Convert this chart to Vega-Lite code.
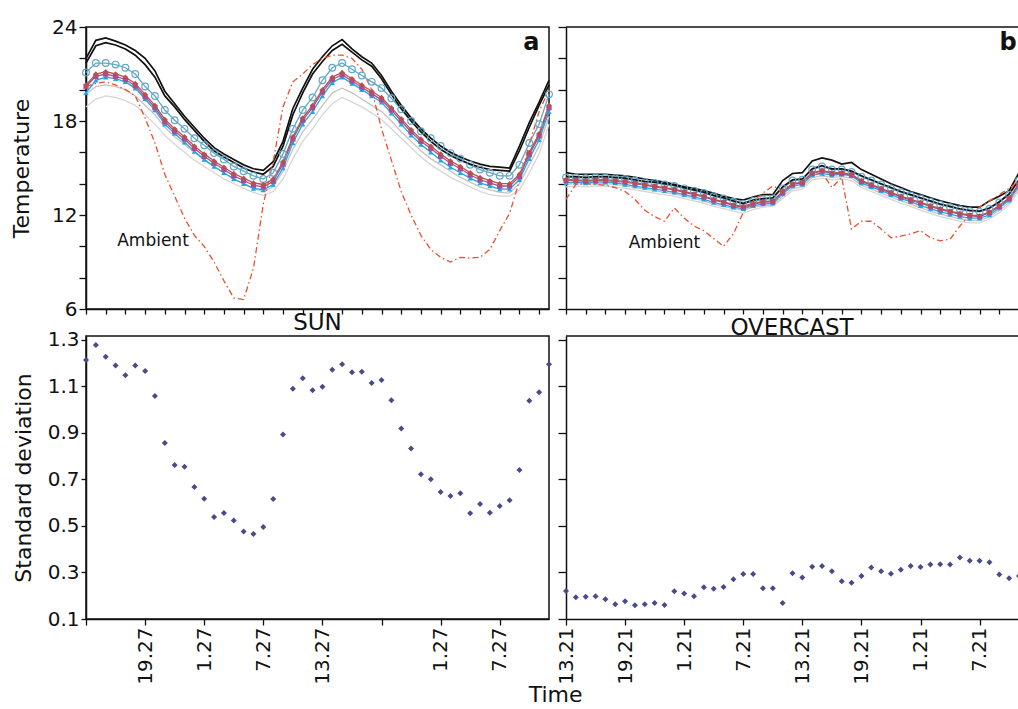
{
"$schema":"https://vega.github.io/schema/vega-lite/v6.json",
"padding":{"left":9,"top":16,"right":0,"bottom":0},
"background":"white",
"title":{"text":"Time","orient":"bottom","anchor":"middle","font":"DejaVu Sans","fontSize":22,"fontWeight":"normal","color":"#111","offset":0,"dx":38},
"columns":2,
"spacing":{"row":-9,"column":-1},
"config":{
 "view":{"stroke":"#111","strokeWidth":1.5},
 "axis":{"domainColor":"#111","domainWidth":1.5,"tickColor":"#111","tickWidth":1.3,"labelColor":"#111","titleColor":"#111","labelFont":"DejaVu Sans","titleFont":"DejaVu Sans","labelFontSize":20,"titleFontSize":22,"titleFontWeight":"normal","grid":false,"labelFlush":false,"labelOverlap":false},
 "text":{"font":"DejaVu Sans","color":"#111"}
},
"datasets":{
"sun":[
{"h":0,"k1":22.0,"k2":21.7,"cy":21.1,"br":20.3,"pu":20.2,"bl":19.8,"g1":19.7,"g2":18.9,"amb":20.2},
{"h":1,"k1":23.15,"k2":22.8,"cy":21.7,"br":21.0,"pu":20.85,"bl":20.6,"g1":20.2,"g2":19.4,"amb":20.4},
{"h":2,"k1":23.3,"k2":23.0,"cy":21.7,"br":21.15,"pu":21.0,"bl":20.8,"g1":20.3,"g2":19.6,"amb":20.5},
{"h":3,"k1":23.1,"k2":22.85,"cy":21.6,"br":21.0,"pu":20.85,"bl":20.7,"g1":20.2,"g2":19.5,"amb":20.3},
{"h":4,"k1":22.85,"k2":22.6,"cy":21.4,"br":20.8,"pu":20.65,"bl":20.5,"g1":20.0,"g2":19.3,"amb":20.0},
{"h":5,"k1":22.5,"k2":22.2,"cy":21.0,"br":20.4,"pu":20.25,"bl":20.1,"g1":19.6,"g2":19.0,"amb":19.6},
{"h":6,"k1":22.0,"k2":21.6,"cy":20.2,"br":19.7,"pu":19.55,"bl":19.4,"g1":19.0,"g2":18.4,"amb":18.2},
{"h":7,"k1":21.2,"k2":20.8,"cy":19.6,"br":19.0,"pu":18.85,"bl":18.7,"g1":18.4,"g2":17.8,"amb":16.6},
{"h":8,"k1":19.9,"k2":19.6,"cy":18.7,"br":18.1,"pu":17.95,"bl":17.8,"g1":17.6,"g2":17.1,"amb":14.6},
{"h":9,"k1":19.1,"k2":18.9,"cy":18.05,"br":17.5,"pu":17.35,"bl":17.2,"g1":17.0,"g2":16.5,"amb":13.2},
{"h":10,"k1":18.3,"k2":18.1,"cy":17.5,"br":17.0,"pu":16.85,"bl":16.65,"g1":16.5,"g2":16.0,"amb":11.8},
{"h":11,"k1":17.6,"k2":17.4,"cy":16.9,"br":16.4,"pu":16.25,"bl":16.05,"g1":16.0,"g2":15.5,"amb":10.7},
{"h":12,"k1":16.9,"k2":16.7,"cy":16.45,"br":15.9,"pu":15.75,"bl":15.55,"g1":15.5,"g2":15.1,"amb":10.0},
{"h":13,"k1":16.3,"k2":16.1,"cy":15.95,"br":15.45,"pu":15.3,"bl":15.1,"g1":15.1,"g2":14.7,"amb":9.0},
{"h":14,"k1":15.9,"k2":15.7,"cy":15.55,"br":15.05,"pu":14.9,"bl":14.7,"g1":14.7,"g2":14.3,"amb":7.8},
{"h":15,"k1":15.55,"k2":15.35,"cy":15.1,"br":14.65,"pu":14.5,"bl":14.3,"g1":14.3,"g2":14.0,"amb":6.7},
{"h":16,"k1":15.2,"k2":15.0,"cy":14.8,"br":14.35,"pu":14.2,"bl":14.0,"g1":14.0,"g2":13.7,"amb":6.6},
{"h":17,"k1":14.95,"k2":14.75,"cy":14.5,"br":14.05,"pu":13.9,"bl":13.7,"g1":13.7,"g2":13.45,"amb":8.6},
{"h":18,"k1":14.85,"k2":14.6,"cy":14.3,"br":13.95,"pu":13.8,"bl":13.6,"g1":13.5,"g2":13.25,"amb":12.7},
{"h":19,"k1":15.4,"k2":15.1,"cy":14.7,"br":14.3,"pu":14.15,"bl":13.95,"g1":13.8,"g2":13.5,"amb":15.4},
{"h":20,"k1":16.7,"k2":16.4,"cy":15.9,"br":15.4,"pu":15.25,"bl":15.0,"g1":14.8,"g2":14.3,"amb":18.9},
{"h":21,"k1":18.8,"k2":18.4,"cy":17.5,"br":17.0,"pu":16.85,"bl":16.6,"g1":16.2,"g2":15.6,"amb":20.5},
{"h":22,"k1":20.1,"k2":19.8,"cy":18.7,"br":18.2,"pu":18.05,"bl":17.8,"g1":17.3,"g2":16.7,"amb":21.0},
{"h":23,"k1":21.3,"k2":21.0,"cy":19.5,"br":19.0,"pu":18.85,"bl":18.6,"g1":18.1,"g2":17.5,"amb":21.6},
{"h":24,"k1":22.1,"k2":21.8,"cy":20.6,"br":20.0,"pu":19.85,"bl":19.6,"g1":19.0,"g2":18.4,"amb":22.0},
{"h":25,"k1":22.8,"k2":22.5,"cy":21.4,"br":20.8,"pu":20.65,"bl":20.45,"g1":19.8,"g2":19.1,"amb":22.2},
{"h":26,"k1":23.2,"k2":22.9,"cy":21.7,"br":21.1,"pu":20.95,"bl":20.8,"g1":20.1,"g2":19.5,"amb":22.2},
{"h":27,"k1":22.6,"k2":22.4,"cy":21.3,"br":20.7,"pu":20.55,"bl":20.4,"g1":19.8,"g2":19.2,"amb":22.0},
{"h":28,"k1":22.1,"k2":21.9,"cy":20.9,"br":20.3,"pu":20.15,"bl":20.0,"g1":19.4,"g2":18.9,"amb":21.3},
{"h":29,"k1":21.7,"k2":21.5,"cy":20.5,"br":19.9,"pu":19.75,"bl":19.6,"g1":19.0,"g2":18.5,"amb":20.0},
{"h":30,"k1":20.9,"k2":20.7,"cy":20.1,"br":19.5,"pu":19.35,"bl":19.2,"g1":18.6,"g2":18.1,"amb":17.5},
{"h":31,"k1":19.9,"k2":19.7,"cy":19.45,"br":18.85,"pu":18.7,"bl":18.5,"g1":18.0,"g2":17.5,"amb":15.5},
{"h":32,"k1":19.0,"k2":18.8,"cy":18.75,"br":18.15,"pu":18.0,"bl":17.8,"g1":17.3,"g2":16.9,"amb":13.5},
{"h":33,"k1":18.2,"k2":18.0,"cy":18.0,"br":17.45,"pu":17.3,"bl":17.1,"g1":16.7,"g2":16.3,"amb":12.0},
{"h":34,"k1":17.5,"k2":17.3,"cy":17.35,"br":16.85,"pu":16.7,"bl":16.5,"g1":16.1,"g2":15.7,"amb":10.7},
{"h":35,"k1":16.9,"k2":16.7,"cy":16.9,"br":16.4,"pu":16.25,"bl":16.0,"g1":15.6,"g2":15.2,"amb":9.8},
{"h":36,"k1":16.4,"k2":16.2,"cy":16.4,"br":15.9,"pu":15.75,"bl":15.5,"g1":15.2,"g2":14.8,"amb":9.3},
{"h":37,"k1":16.0,"k2":15.8,"cy":15.95,"br":15.45,"pu":15.3,"bl":15.05,"g1":14.8,"g2":14.4,"amb":9.0},
{"h":38,"k1":15.7,"k2":15.5,"cy":15.6,"br":15.1,"pu":14.95,"bl":14.7,"g1":14.4,"g2":14.1,"amb":9.3},
{"h":39,"k1":15.45,"k2":15.25,"cy":15.2,"br":14.7,"pu":14.55,"bl":14.35,"g1":14.1,"g2":13.8,"amb":9.25},
{"h":40,"k1":15.25,"k2":15.05,"cy":14.9,"br":14.4,"pu":14.25,"bl":14.05,"g1":13.8,"g2":13.5,"amb":9.3},
{"h":41,"k1":15.1,"k2":14.9,"cy":14.7,"br":14.2,"pu":14.05,"bl":13.85,"g1":13.6,"g2":13.3,"amb":9.8},
{"h":42,"k1":15.05,"k2":14.85,"cy":14.5,"br":14.0,"pu":13.85,"bl":13.65,"g1":13.45,"g2":13.2,"amb":11.0},
{"h":43,"k1":15.0,"k2":14.8,"cy":14.5,"br":14.0,"pu":13.85,"bl":13.65,"g1":13.4,"g2":13.2,"amb":12.1},
{"h":44,"k1":16.4,"k2":16.1,"cy":15.2,"br":14.6,"pu":14.45,"bl":14.25,"g1":14.0,"g2":13.6,"amb":14.2},
{"h":45,"k1":17.9,"k2":17.6,"cy":16.6,"br":16.0,"pu":15.85,"bl":15.6,"g1":15.2,"g2":14.7,"amb":16.5},
{"h":46,"k1":19.2,"k2":19.0,"cy":17.8,"br":17.2,"pu":17.05,"bl":16.8,"g1":16.4,"g2":15.9,"amb":18.6},
{"h":47,"k1":20.6,"k2":20.3,"cy":19.7,"br":19.0,"pu":18.85,"bl":18.6,"g1":18.3,"g2":17.8,"amb":20.0}
],
"ovc":[
{"h":0,"k1":14.7,"k2":14.45,"cy":14.4,"br":14.25,"pu":14.2,"bl":14.05,"g1":13.95,"g2":13.8,"amb":13.0},
{"h":1,"k1":14.6,"k2":14.45,"cy":14.4,"br":14.25,"pu":14.2,"bl":14.1,"g1":14.0,"g2":13.85,"amb":13.95},
{"h":2,"k1":14.6,"k2":14.4,"cy":14.35,"br":14.2,"pu":14.15,"bl":14.05,"g1":13.95,"g2":13.8,"amb":14.0},
{"h":3,"k1":14.6,"k2":14.45,"cy":14.4,"br":14.25,"pu":14.2,"bl":14.1,"g1":14.0,"g2":13.85,"amb":13.95},
{"h":4,"k1":14.6,"k2":14.45,"cy":14.4,"br":14.25,"pu":14.2,"bl":14.1,"g1":14.0,"g2":13.85,"amb":13.9},
{"h":5,"k1":14.55,"k2":14.4,"cy":14.35,"br":14.2,"pu":14.15,"bl":14.05,"g1":13.95,"g2":13.8,"amb":13.75},
{"h":6,"k1":14.5,"k2":14.35,"cy":14.3,"br":14.15,"pu":14.1,"bl":13.95,"g1":13.85,"g2":13.7,"amb":13.5},
{"h":7,"k1":14.4,"k2":14.25,"cy":14.2,"br":14.05,"pu":14.0,"bl":13.85,"g1":13.75,"g2":13.6,"amb":13.0},
{"h":8,"k1":14.3,"k2":14.15,"cy":14.1,"br":13.95,"pu":13.9,"bl":13.75,"g1":13.65,"g2":13.5,"amb":12.3},
{"h":9,"k1":14.2,"k2":14.1,"cy":14.05,"br":13.85,"pu":13.8,"bl":13.65,"g1":13.55,"g2":13.4,"amb":11.9},
{"h":10,"k1":14.1,"k2":14.0,"cy":13.95,"br":13.75,"pu":13.7,"bl":13.55,"g1":13.45,"g2":13.3,"amb":11.6},
{"h":11,"k1":13.95,"k2":13.9,"cy":13.85,"br":13.65,"pu":13.6,"bl":13.45,"g1":13.35,"g2":13.2,"amb":12.45},
{"h":12,"k1":13.8,"k2":13.75,"cy":13.7,"br":13.5,"pu":13.45,"bl":13.3,"g1":13.2,"g2":13.05,"amb":11.8},
{"h":13,"k1":13.7,"k2":13.6,"cy":13.55,"br":13.35,"pu":13.3,"bl":13.15,"g1":13.05,"g2":12.9,"amb":11.3},
{"h":14,"k1":13.55,"k2":13.45,"cy":13.4,"br":13.2,"pu":13.15,"bl":13.0,"g1":12.9,"g2":12.75,"amb":11.0},
{"h":15,"k1":13.4,"k2":13.25,"cy":13.2,"br":13.0,"pu":12.95,"bl":12.8,"g1":12.7,"g2":12.55,"amb":10.5},
{"h":16,"k1":13.2,"k2":13.1,"cy":13.05,"br":12.85,"pu":12.8,"bl":12.65,"g1":12.55,"g2":12.4,"amb":10.0},
{"h":17,"k1":13.05,"k2":12.9,"cy":12.85,"br":12.65,"pu":12.6,"bl":12.5,"g1":12.4,"g2":12.25,"amb":10.8},
{"h":18,"k1":12.95,"k2":12.75,"cy":12.7,"br":12.55,"pu":12.5,"bl":12.4,"g1":12.3,"g2":12.1,"amb":12.15},
{"h":19,"k1":13.15,"k2":12.95,"cy":12.9,"br":12.75,"pu":12.7,"bl":12.6,"g1":12.5,"g2":12.35,"amb":12.9},
{"h":20,"k1":13.3,"k2":13.05,"cy":13.0,"br":12.85,"pu":12.8,"bl":12.7,"g1":12.6,"g2":12.5,"amb":13.4},
{"h":21,"k1":13.3,"k2":13.1,"cy":13.05,"br":12.9,"pu":12.85,"bl":12.75,"g1":12.65,"g2":12.55,"amb":13.85},
{"h":22,"k1":14.2,"k2":13.8,"cy":13.7,"br":13.5,"pu":13.45,"bl":13.35,"g1":13.2,"g2":13.05,"amb":13.6},
{"h":23,"k1":14.65,"k2":14.25,"cy":14.2,"br":14.0,"pu":13.95,"bl":13.85,"g1":13.7,"g2":13.55,"amb":14.0},
{"h":24,"k1":14.7,"k2":14.3,"cy":14.25,"br":14.1,"pu":14.05,"bl":13.95,"g1":13.8,"g2":13.65,"amb":14.2},
{"h":25,"k1":15.45,"k2":14.95,"cy":14.9,"br":14.7,"pu":14.65,"bl":14.55,"g1":14.4,"g2":14.25,"amb":14.5},
{"h":26,"k1":15.65,"k2":15.15,"cy":15.1,"br":14.85,"pu":14.8,"bl":14.65,"g1":14.5,"g2":14.35,"amb":14.7},
{"h":27,"k1":15.5,"k2":14.95,"cy":14.9,"br":14.7,"pu":14.65,"bl":14.55,"g1":14.4,"g2":14.25,"amb":13.75},
{"h":28,"k1":15.25,"k2":14.95,"cy":14.9,"br":14.7,"pu":14.65,"bl":14.6,"g1":14.45,"g2":14.3,"amb":14.4},
{"h":29,"k1":15.35,"k2":14.8,"cy":14.75,"br":14.6,"pu":14.55,"bl":14.5,"g1":14.35,"g2":14.2,"amb":11.1},
{"h":30,"k1":14.9,"k2":14.5,"cy":14.45,"br":14.2,"pu":14.15,"bl":14.05,"g1":13.9,"g2":13.75,"amb":11.6},
{"h":31,"k1":14.6,"k2":14.25,"cy":14.2,"br":13.95,"pu":13.9,"bl":13.8,"g1":13.65,"g2":13.5,"amb":11.6},
{"h":32,"k1":14.3,"k2":14.0,"cy":13.95,"br":13.7,"pu":13.65,"bl":13.55,"g1":13.4,"g2":13.25,"amb":11.1},
{"h":33,"k1":14.0,"k2":13.75,"cy":13.7,"br":13.45,"pu":13.4,"bl":13.3,"g1":13.15,"g2":13.0,"amb":10.55},
{"h":34,"k1":13.75,"k2":13.5,"cy":13.45,"br":13.2,"pu":13.15,"bl":13.05,"g1":12.9,"g2":12.75,"amb":10.65},
{"h":35,"k1":13.5,"k2":13.3,"cy":13.25,"br":13.0,"pu":12.95,"bl":12.85,"g1":12.7,"g2":12.55,"amb":10.8},
{"h":36,"k1":13.3,"k2":13.1,"cy":13.05,"br":12.8,"pu":12.75,"bl":12.6,"g1":12.45,"g2":12.3,"amb":11.0},
{"h":37,"k1":13.1,"k2":12.9,"cy":12.85,"br":12.6,"pu":12.55,"bl":12.4,"g1":12.25,"g2":12.1,"amb":10.55},
{"h":38,"k1":12.9,"k2":12.7,"cy":12.65,"br":12.4,"pu":12.35,"bl":12.2,"g1":12.05,"g2":11.9,"amb":10.35},
{"h":39,"k1":12.75,"k2":12.55,"cy":12.5,"br":12.25,"pu":12.2,"bl":12.05,"g1":11.9,"g2":11.75,"amb":10.45},
{"h":40,"k1":12.6,"k2":12.4,"cy":12.35,"br":12.1,"pu":12.05,"bl":11.9,"g1":11.75,"g2":11.6,"amb":11.3},
{"h":41,"k1":12.5,"k2":12.3,"cy":12.25,"br":12.0,"pu":11.95,"bl":11.8,"g1":11.65,"g2":11.5,"amb":12.0},
{"h":42,"k1":12.5,"k2":12.25,"cy":12.2,"br":11.95,"pu":11.9,"bl":11.8,"g1":11.65,"g2":11.5,"amb":12.5},
{"h":43,"k1":12.9,"k2":12.45,"cy":12.4,"br":12.2,"pu":12.15,"bl":12.0,"g1":11.9,"g2":11.75,"amb":12.9},
{"h":44,"k1":13.2,"k2":12.85,"cy":12.8,"br":12.6,"pu":12.55,"bl":12.45,"g1":12.3,"g2":12.15,"amb":13.3},
{"h":45,"k1":13.55,"k2":13.35,"cy":13.3,"br":13.1,"pu":13.05,"bl":12.95,"g1":12.8,"g2":12.65,"amb":13.7},
{"h":46,"k1":14.7,"k2":14.25,"cy":14.2,"br":14.0,"pu":13.95,"bl":13.85,"g1":13.7,"g2":13.55,"amb":14.2}
],
"sdsun":[
{"h":0,"sd":1.214},{"h":1,"sd":1.278},{"h":2,"sd":1.228},{"h":3,"sd":1.19},{"h":4,"sd":1.148},{"h":5,"sd":1.19},{"h":6,"sd":1.167},{"h":7,"sd":1.059},{"h":8,"sd":0.857},{"h":9,"sd":0.762},{"h":10,"sd":0.755},{"h":11,"sd":0.668},{"h":12,"sd":0.617},{"h":13,"sd":0.539},{"h":14,"sd":0.556},{"h":15,"sd":0.524},{"h":16,"sd":0.476},{"h":17,"sd":0.466},{"h":18,"sd":0.496},{"h":19,"sd":0.616},{"h":20,"sd":0.893},{"h":21,"sd":1.09},{"h":22,"sd":1.135},{"h":23,"sd":1.084},{"h":24,"sd":1.099},{"h":25,"sd":1.172},{"h":26,"sd":1.195},{"h":27,"sd":1.161},{"h":28,"sd":1.163},{"h":29,"sd":1.115},{"h":30,"sd":1.128},{"h":31,"sd":1.041},{"h":32,"sd":0.919},{"h":33,"sd":0.833},{"h":34,"sd":0.722},{"h":35,"sd":0.701},{"h":36,"sd":0.646},{"h":37,"sd":0.629},{"h":38,"sd":0.641},{"h":39,"sd":0.555},{"h":40,"sd":0.595},{"h":41,"sd":0.557},{"h":42,"sd":0.586},{"h":43,"sd":0.611},{"h":44,"sd":0.741},{"h":45,"sd":1.039},{"h":46,"sd":1.075},{"h":47,"sd":1.195}
],
"sdovc":[
{"h":0,"sd":0.22},{"h":1,"sd":0.193},{"h":2,"sd":0.196},{"h":3,"sd":0.198},{"h":4,"sd":0.185},{"h":5,"sd":0.163},{"h":6,"sd":0.176},{"h":7,"sd":0.159},{"h":8,"sd":0.163},{"h":9,"sd":0.169},{"h":10,"sd":0.16},{"h":11,"sd":0.219},{"h":12,"sd":0.21},{"h":13,"sd":0.198},{"h":14,"sd":0.236},{"h":15,"sd":0.23},{"h":16,"sd":0.238},{"h":17,"sd":0.271},{"h":18,"sd":0.294},{"h":19,"sd":0.294},{"h":20,"sd":0.232},{"h":21,"sd":0.232},{"h":22,"sd":0.169},{"h":23,"sd":0.297},{"h":24,"sd":0.279},{"h":25,"sd":0.325},{"h":26,"sd":0.328},{"h":27,"sd":0.305},{"h":28,"sd":0.262},{"h":29,"sd":0.256},{"h":30,"sd":0.285},{"h":31,"sd":0.322},{"h":32,"sd":0.305},{"h":33,"sd":0.295},{"h":34,"sd":0.312},{"h":35,"sd":0.328},{"h":36,"sd":0.324},{"h":37,"sd":0.334},{"h":38,"sd":0.335},{"h":39,"sd":0.334},{"h":40,"sd":0.365},{"h":41,"sd":0.351},{"h":42,"sd":0.351},{"h":43,"sd":0.344},{"h":44,"sd":0.291},{"h":45,"sd":0.275},{"h":46,"sd":0.285}
]
},
"concat":[
{
 "width":463,"height":282,
 "encoding":{
  "x":{"field":"h","type":"quantitative","scale":{"domain":[0,47],"nice":false,"zero":false},"axis":{"values":[0,2,4,6,8,10,12,14,16,18,20,22,24,26,28,30,32,34,36,38,40,42,44,46],"labels":false,"tickSize":5,"title":null}},
  "y":{"field":"T","type":"quantitative","scale":{"domain":[6,24],"nice":false,"zero":false},"axis":{"values":[6,8,10,12,14,16,18,20,22,24],"labelExpr":"datum.value % 6 == 0 ? datum.label : ''","tickSize":7,"labelPadding":2,"title":"Temperature","titlePadding":18}}
 },
 "layer":[
  {"data":{"name":"sun"},"transform":[{"fold":["g2","g1","bl","pu","br","cy"],"as":["s","T"]}],"mark":{"type":"line","strokeWidth":1.3},"encoding":{"color":{"field":"s","type":"nominal","scale":{"domain":["g2","g1","bl","pu","br","cy"],"range":["#d6d6d6","#c4c4c4","#1fa5e6","#a4508d","#bb4f4c","#60a8c8"]},"legend":null}}},
  {"data":{"name":"sun"},"transform":[{"fold":["k2","k1"],"as":["s","T"]}],"mark":{"type":"line","strokeWidth":1.7,"color":"#111"},"encoding":{"detail":{"field":"s","type":"nominal"}}},
  {"data":{"name":"sun"},"transform":[{"fold":["amb"],"as":["s","T"]}],"mark":{"type":"line","strokeWidth":1.3,"color":"#f04e2a","strokeDash":[6,3,1.5,3]}},
  {"data":{"name":"sun"},"transform":[{"fold":["cy"],"as":["s","T"]}],"mark":{"type":"point","filled":false,"size":45,"strokeWidth":1.2,"color":"#60a8c8","opacity":1}},
  {"data":{"name":"sun"},"transform":[{"fold":["bl","pu","br"],"as":["s","T"]}],"mark":{"type":"point","filled":true,"size":28,"opacity":1},"encoding":{"shape":{"field":"s","type":"nominal","scale":{"domain":["bl","pu","br"],"range":["triangle-up","square","diamond"]},"legend":null},"color":{"field":"s","type":"nominal","scale":{"domain":["g2","g1","bl","pu","br","cy"],"range":["#d6d6d6","#c4c4c4","#1fa5e6","#a4508d","#bb4f4c","#60a8c8"]},"legend":null}}},
  {"data":{"values":[{"h":6.8,"T":10.34,"t":"Ambient"}]},"mark":{"type":"text","fontSize":17,"align":"center","baseline":"middle"},"encoding":{"text":{"field":"t"}}},
  {"data":{"values":[{"h":45.2,"T":22.98,"t":"a"}]},"mark":{"type":"text","fontSize":24,"fontWeight":"bold","align":"center","baseline":"middle"},"encoding":{"text":{"field":"t"}}}
 ]
},
{
 "width":452,"height":282,
 "view":{"stroke":"transparent"},
 "encoding":{
  "x":{"field":"h","type":"quantitative","scale":{"domain":[0,45.9],"nice":false,"zero":false},"axis":{"values":[0,2,4,6,8,10,12,14,16,18,20,22,24,26,28,30,32,34,36,38,40,42,44],"labels":false,"tickSize":5,"title":null}},
  "y":{"field":"T","type":"quantitative","scale":{"domain":[6,24],"nice":false,"zero":false},"axis":{"values":[6,8,10,12,14,16,18,20,22,24],"labels":false,"tickSize":8,"title":null}}
 },
 "layer":[
  {"data":{"name":"ovc"},"transform":[{"fold":["g2","g1","bl","pu","br","cy"],"as":["s","T"]}],"mark":{"type":"line","strokeWidth":1.3},"encoding":{"color":{"field":"s","type":"nominal","scale":{"domain":["g2","g1","bl","pu","br","cy"],"range":["#d6d6d6","#c4c4c4","#1fa5e6","#a4508d","#bb4f4c","#60a8c8"]},"legend":null}}},
  {"data":{"name":"ovc"},"transform":[{"fold":["k2","k1"],"as":["s","T"]}],"mark":{"type":"line","strokeWidth":1.7,"color":"#111"},"encoding":{"detail":{"field":"s","type":"nominal"}}},
  {"data":{"name":"ovc"},"transform":[{"fold":["amb"],"as":["s","T"]}],"mark":{"type":"line","strokeWidth":1.3,"color":"#f04e2a","strokeDash":[6,3,1.5,3]}},
  {"data":{"name":"ovc"},"transform":[{"fold":["cy"],"as":["s","T"]}],"mark":{"type":"point","filled":false,"size":45,"strokeWidth":1.2,"color":"#60a8c8","opacity":1}},
  {"data":{"name":"ovc"},"transform":[{"fold":["bl","pu","br"],"as":["s","T"]}],"mark":{"type":"point","filled":true,"size":28,"opacity":1},"encoding":{"shape":{"field":"s","type":"nominal","scale":{"domain":["bl","pu","br"],"range":["triangle-up","square","diamond"]},"legend":null},"color":{"field":"s","type":"nominal","scale":{"domain":["g2","g1","bl","pu","br","cy"],"range":["#d6d6d6","#c4c4c4","#1fa5e6","#a4508d","#bb4f4c","#60a8c8"]},"legend":null}}},
  {"data":{"values":[{"h":0,"h2":45.9,"T":24}]},"mark":{"type":"rule","color":"#111","strokeWidth":1.5},"encoding":{"x2":{"field":"h2"}}},
  {"data":{"values":[{"h":10.0,"T":10.2,"t":"Ambient"}]},"mark":{"type":"text","fontSize":17,"align":"center","baseline":"middle"},"encoding":{"text":{"field":"t"}}},
  {"data":{"values":[{"h":44.9,"T":22.98,"t":"b"}]},"mark":{"type":"text","fontSize":24,"fontWeight":"bold","align":"center","baseline":"middle"},"encoding":{"text":{"field":"t"}}}
 ]
},
{
 "width":463,"height":283,
 "title":{"text":"SUN","font":"DejaVu Sans","fontSize":23,"fontWeight":"normal","color":"#111","offset":-5},
 "data":{"name":"sdsun"},
 "mark":{"type":"point","filled":true,"shape":"diamond","size":36,"color":"#4a4a8a","opacity":1},
 "encoding":{
  "x":{"field":"h","type":"quantitative","scale":{"domain":[0,47],"nice":false,"zero":false},"axis":{"values":[0,6,12,18,24,30,36,42],"labelExpr":"datum.value==6?'19.27':datum.value==12?'1.27':datum.value==18?'7.27':datum.value==24?'13.27':datum.value==36?'1.27':datum.value==42?'7.27':''","labelAngle":270,"tickSize":6,"labelPadding":2,"title":null}},
  "y":{"field":"sd","type":"quantitative","scale":{"domain":[0.1,1.317],"nice":false,"zero":false},"axis":{"values":[0.1,0.3,0.5,0.7,0.9,1.1,1.3],"format":".1f","tickSize":5,"labelPadding":2,"title":"Standard deviation","titlePadding":12}}
 }
},
{
 "width":452,"height":283,
 "view":{"stroke":"transparent"},
 "title":{"text":"OVERCAST","font":"DejaVu Sans","fontSize":23,"fontWeight":"normal","color":"#111","offset":-5},
 "encoding":{
  "x":{"field":"h","type":"quantitative","scale":{"domain":[0,45.9],"nice":false,"zero":false},"axis":{"values":[0,6,12,18,24,30,36,42],"labelExpr":"datum.value==0?'13.21':datum.value==6?'19.21':datum.value==12?'1.21':datum.value==18?'7.21':datum.value==24?'13.21':datum.value==30?'19.21':datum.value==36?'1.21':datum.value==42?'7.21':''","labelAngle":270,"tickSize":6,"labelPadding":2,"title":null}},
  "y":{"field":"sd","type":"quantitative","scale":{"domain":[0.1,1.317],"nice":false,"zero":false},"axis":{"values":[0.1,0.3,0.5,0.7,0.9,1.1,1.3],"labels":false,"tickSize":8,"title":null}}
 },
 "layer":[
  {"data":{"name":"sdovc"},"mark":{"type":"point","filled":true,"shape":"diamond","size":36,"color":"#4a4a8a","opacity":1}},
  {"data":{"values":[{"h":0,"h2":45.9,"sd":1.317}]},"mark":{"type":"rule","color":"#111","strokeWidth":1.5},"encoding":{"x2":{"field":"h2"}}}
 ]
}
]
}
